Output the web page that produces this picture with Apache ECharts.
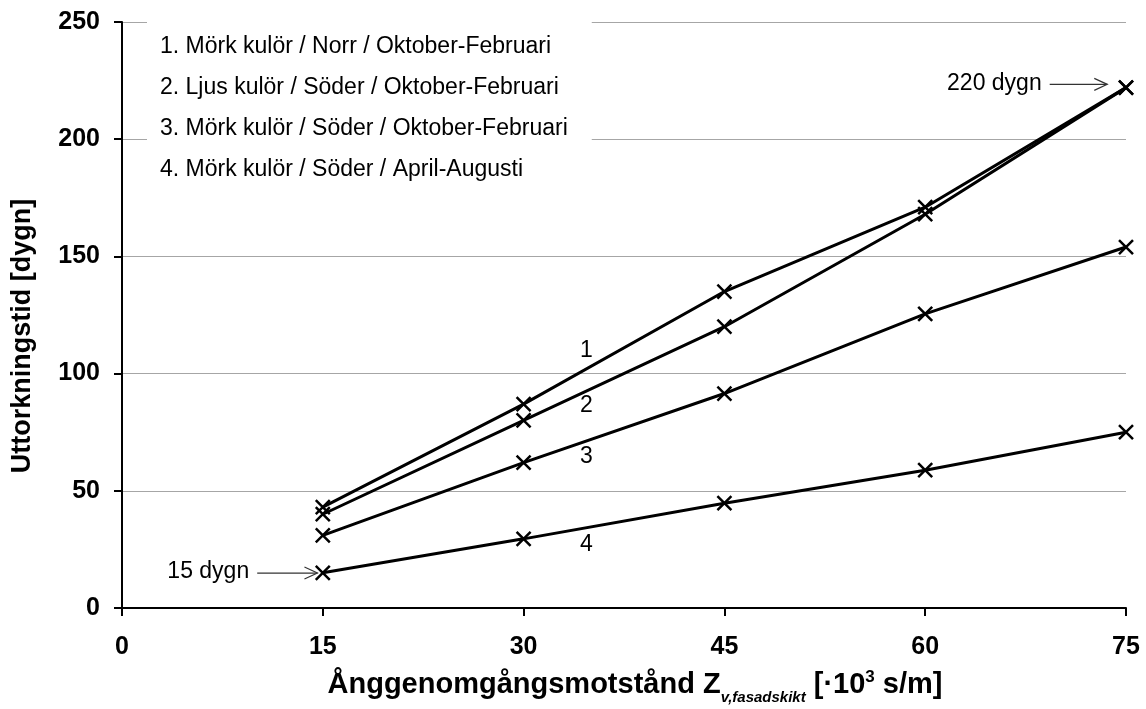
<!DOCTYPE html>
<html><head><meta charset="utf-8">
<script src="https://cdn.jsdelivr.net/npm/echarts/dist/echarts.min.js"></script>
<style>html,body{margin:0;padding:0;background:#fff}#c{width:1146px;height:709px}</style>
</head><body><div id="c"></div>
<script>
// ---- data ----
const xValues = [15, 30, 45, 60, 75];
const seriesNames = [
  '1. Mörk kulör / Norr / Oktober-Februari',
  '2. Ljus kulör / Söder / Oktober-Februari',
  '3. Mörk kulör / Söder / Oktober-Februari',
  '4. Mörk kulör / Söder / April-Augusti'
];
const series1 = [43, 87, 135, 171, 222];
const series2 = [40, 80, 120, 168, 222];
const series3 = [31, 62, 91.5, 125.5, 154];
const series4 = [15, 29.5, 44.7, 58.8, 75];
const curveLabels = ['1', '2', '3', '4'];
const curveLabelX = [34.7, 34.7, 34.7, 34.7];
const curveLabelY = [110, 86.5, 64.4, 26.9];
const calloutTexts = ['220 dygn', '15 dygn'];
const calloutFromX = [69.3, 10.1];
const calloutToX = [73.6, 14.6];
const calloutY = [223.4, 14.9];
const xAxisMin = 0, xAxisMax = 75, xAxisStep = 15;
const yAxisMin = 0, yAxisMax = 250, yAxisStep = 50;
const yTitle = 'Uttorkningstid [dygn]';

const FONT = 'Liberation Sans, Arial, sans-serif';
const allSeries = [series1, series2, series3, series4];

const chart = echarts.init(document.getElementById('c'), null, {renderer: 'canvas'});

const option = {
  animation: false,
  backgroundColor: '#fff',
  grid: {left: 122, right: 20, top: 22, bottom: 101, containLabel: false, outerBoundsMode: 'none'},
  legend: {
    orient: 'vertical', left: 147, top: 22,
    itemWidth: 0, itemHeight: 0, itemGap: 15,
    padding: [12, 24, 22, 8],
    backgroundColor: '#fff',
    icon: 'rect',
    selectedMode: false,
    itemStyle: {color: 'transparent', borderWidth: 0},
    lineStyle: {width: 0, opacity: 0},
    textStyle: {fontSize: 23, fontFamily: FONT, color: '#000', lineHeight: 26},
    data: seriesNames
  },
  xAxis: {
    type: 'value', min: xAxisMin, max: xAxisMax, interval: xAxisStep,
    axisLine: {show: true, onZero: false, lineStyle: {color: '#000', width: 2}},
    axisTick: {show: true, inside: false, length: 8, lineStyle: {color: '#000', width: 2}},
    splitLine: {show: false},
    axisLabel: {fontSize: 25, fontWeight: 'bold', fontFamily: FONT, color: '#000', margin: 27},
    name: '{a|Ånggenomgångsmotstånd Z}{b|v,fasadskikt}{a| [·10}{c|3}{a| s/m]}',
    nameLocation: 'middle', nameGap: 57,
    nameTextStyle: {
      fontFamily: FONT, color: '#000',
      padding: [0, 0, 0, 22],
      rich: {
        a: {fontSize: 29, fontWeight: 'bold', fontFamily: FONT, color: '#000', lineHeight: 40},
        b: {fontSize: 15, fontWeight: 'bold', fontStyle: 'italic', fontFamily: FONT, color: '#000', lineHeight: 14, verticalAlign: 'bottom'},
        c: {fontSize: 17, fontWeight: 'bold', fontFamily: FONT, color: '#000', lineHeight: 17, verticalAlign: 'middle', padding: [0, 0, 15, 0]}
      }
    }
  },
  yAxis: {
    type: 'value', min: yAxisMin, max: yAxisMax, interval: yAxisStep,
    axisLine: {show: true, lineStyle: {color: '#000', width: 2}},
    axisTick: {show: true, inside: false, length: 8, lineStyle: {color: '#000', width: 2}},
    splitLine: {show: true, lineStyle: {color: '#a6a6a6', width: 1}},
    axisLabel: {fontSize: 25, fontWeight: 'bold', fontFamily: FONT, color: '#000', margin: 22}
  },
  series: allSeries.map((vals, i) => ({
    name: seriesNames[i],
    type: 'line',
    data: xValues.map((x, j) => [x, vals[j]]),
    symbol: 'path://M0,0L10,10M10,0L0,10',
    symbolSize: 14,
    showSymbol: true,
    lineStyle: {color: '#000', width: 3},
    itemStyle: {color: '#000', borderColor: '#000', borderWidth: 2.5},
    emphasis: {disabled: true},
    z: 3,
    markPoint: {
      symbol: 'circle', symbolSize: 0, silent: true,
      label: {show: true, position: 'inside', formatter: curveLabels[i], fontSize: 23, fontFamily: FONT, color: '#000'},
      data: [{coord: [curveLabelX[i], curveLabelY[i]], value: curveLabels[i]}]
    }
  }))
};
chart.setOption(option);

function addAnnotations() {
  const g = [];
  calloutTexts.forEach((t, i) => {
    const p0 = chart.convertToPixel({gridIndex: 0}, [calloutFromX[i], calloutY[i]]);
    const p1 = chart.convertToPixel({gridIndex: 0}, [calloutToX[i], calloutY[i]]);
    g.push({type: 'line', shape: {x1: p0[0], y1: p0[1], x2: p1[0], y2: p1[1]}, style: {stroke: '#333', lineWidth: 1.2}, z: 10});
    g.push({type: 'polyline', shape: {points: [[p1[0] - 13, p1[1] - 6], [p1[0], p1[1]], [p1[0] - 13, p1[1] + 6]]}, style: {stroke: '#333', lineWidth: 1.2, fill: null}, z: 10});
    g.push({type: 'text', x: p0[0] - 8, y: p0[1] - 1, style: {text: t, align: 'right', verticalAlign: 'middle', fontSize: 23, fontFamily: FONT, fill: '#000'}, z: 10});
  });
  g.push({type: 'text', x: 23, y: 336, rotation: Math.PI / 2,
    style: {text: yTitle, align: 'center', verticalAlign: 'middle', fontSize: 27, fontWeight: 'bold', fontFamily: FONT, fill: '#000'}, z: 10});
  chart.setOption({graphic: g});
}
addAnnotations();
</script>
</body></html>
